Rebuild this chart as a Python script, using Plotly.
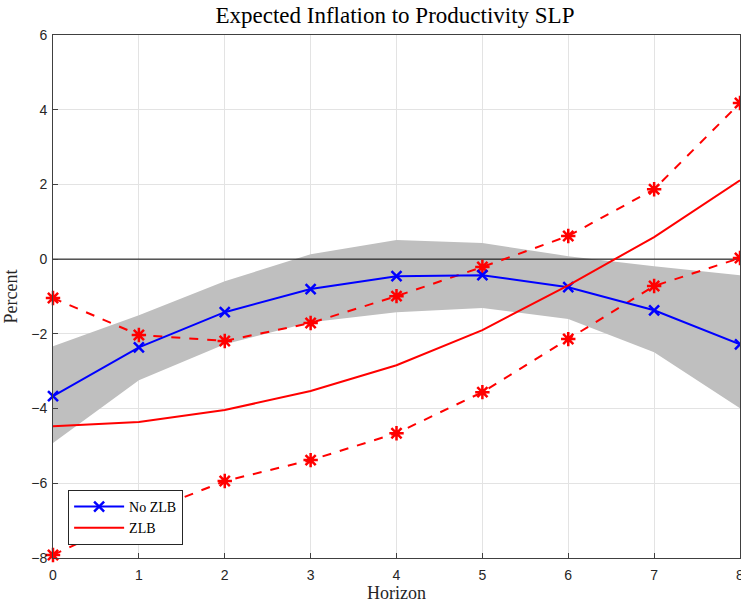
import plotly.graph_objects as go

horizon = [0, 1, 2, 3, 4, 5, 6, 7, 8]
no_zlb = [-3.67, -2.36, -1.42, -0.80, -0.455, -0.43, -0.75, -1.37, -2.28]
band_upper = [-2.33, -1.50, -0.59, 0.13, 0.51, 0.43, 0.08, -0.19, -0.43]
band_lower = [-4.92, -3.24, -2.28, -1.69, -1.42, -1.31, -1.60, -2.49, -3.99]
zlb = [-4.47, -4.36, -4.04, -3.53, -2.84, -1.90, -0.70, 0.59, 2.11]
zlb_upper = [-1.04, -2.03, -2.19, -1.71, -0.99, -0.21, 0.62, 1.87, 4.18]
zlb_lower = [-7.92, -6.85, -5.94, -5.38, -4.66, -3.56, -2.14, -0.72, 0.03]

fig = go.Figure()

fig.add_trace(go.Scatter(
    x=horizon + horizon[::-1], y=band_upper + band_lower[::-1],
    fill="toself", fillcolor="#bfbfbf", line=dict(width=0),
    mode="lines", hoverinfo="skip", showlegend=False))

fig.add_trace(go.Scatter(
    x=horizon, y=[0] * len(horizon), mode="lines",
    line=dict(color="black", width=1), showlegend=False, hoverinfo="skip"))

for band in (zlb_upper, zlb_lower):
    fig.add_trace(go.Scatter(
        x=horizon, y=band, mode="lines+markers",
        line=dict(color="#ff0000", width=2, dash="dash"),
        marker=dict(symbol="asterisk-open", size=12, color="#ff0000",
                    line=dict(color="#ff0000", width=2.5)),
        showlegend=False, cliponaxis=False))

fig.add_trace(go.Scatter(
    x=horizon, y=no_zlb, mode="lines+markers", name="No ZLB",
    line=dict(color="#0000ff", width=2),
    marker=dict(symbol="x-thin-open", size=10, color="#0000ff",
                line=dict(color="#0000ff", width=2.5)),
    cliponaxis=False))
fig.add_trace(go.Scatter(
    x=horizon, y=zlb, mode="lines", name="ZLB",
    line=dict(color="#ff0000", width=2)))

axis_common = dict(
    showgrid=True, gridcolor="#e3e3e3", gridwidth=1,
    showline=True, linecolor="#404040", linewidth=1, mirror=True,
    ticks="inside", ticklen=5, tickcolor="#404040",
    zeroline=False, ticklabeloverflow="allow", automargin=False,
    tickfont=dict(family="Liberation Sans, Arial", size=14, color="#262626"),
)

fig.update_xaxes(range=[0, 8], tickvals=horizon, ticklabelstandoff=4, **axis_common,
                 title=dict(text="Horizon", standoff=0,
                            font=dict(family="Liberation Serif", size=18, color="#262626")))
fig.update_yaxes(range=[-8, 6], tickvals=[-8, -6, -4, -2, 0, 2, 4, 6], ticklabelstandoff=2,
                 **axis_common,
                 title=dict(text="Percent", standoff=8,
                            font=dict(family="Liberation Serif", size=18, color="#262626")))

fig.update_layout(
    width=741, height=604,
    margin=dict(l=53, r=1, t=35, b=46),
    paper_bgcolor="white", plot_bgcolor="white",
    title=dict(text="Expected Inflation to Productivity SLP", x=0.533, xanchor="center",
               y=0.975, yanchor="middle",
               font=dict(family="Liberation Serif", size=23, color="black")),
    legend=dict(x=0.022, y=0.025, xanchor="left", yanchor="bottom",
                bgcolor="white", bordercolor="#262626", borderwidth=1,
                font=dict(family="Liberation Serif", size=14, color="black"),
                tracegroupgap=0, itemwidth=50),
    showlegend=True,
)

fig.write_html("out.html")
